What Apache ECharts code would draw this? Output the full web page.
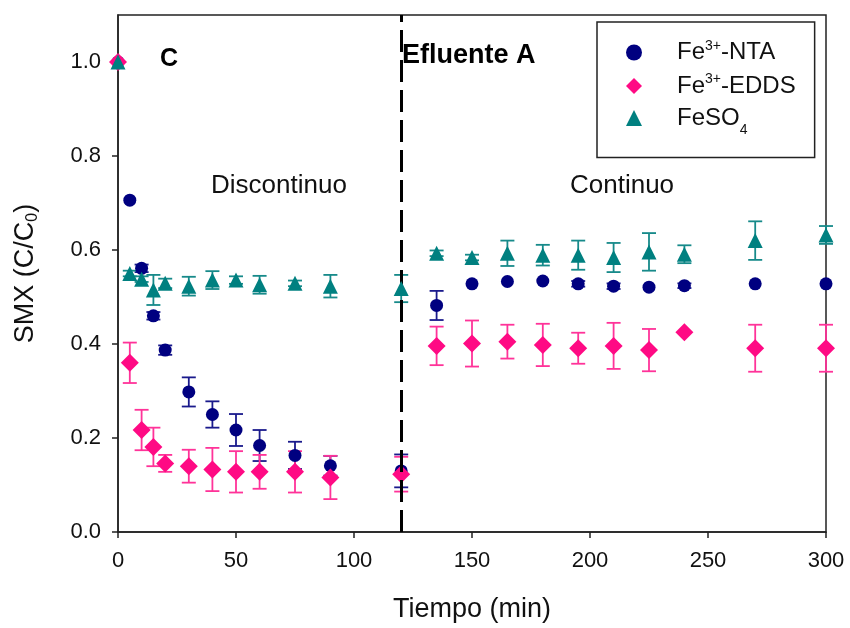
<!DOCTYPE html>
<html>
<head>
<meta charset="utf-8">
<script src="https://cdn.jsdelivr.net/npm/echarts@6/dist/echarts.min.js"></script>
<style>
  html, body { margin: 0; padding: 0; background: #fff; }
  #chart { width: 850px; height: 628px; }
</style>
</head>
<body>
<div id="chart"></div>
<script>
// tiempo (min)
var times = [0, 5, 10, 15, 20, 30, 40, 50, 60, 75, 90, 120, 135, 150, 165, 180, 195, 210, 225, 240, 270, 300]

// SMX C/C0, media y desviación
var ntaMean = [1.0, 0.706, 0.561, 0.46, 0.387, 0.298, 0.25, 0.217, 0.184, 0.163, 0.141, 0.13, 0.482, 0.528, 0.533, 0.534, 0.528, 0.523, 0.521, 0.524, 0.528, 0.528]
var ntaErr = [0, 0, 0.008, 0.008, 0.01, 0.031, 0.028, 0.034, 0.033, 0.029, 0.021, 0.035, 0.031, 0, 0, 0, 0.006, 0.006, 0, 0.005, 0, 0]

var eddsMean = [1.0, 0.36, 0.217, 0.181, 0.146, 0.14, 0.133, 0.128, 0.128, 0.128, 0.116, 0.123, 0.396, 0.401, 0.405, 0.398, 0.391, 0.396, 0.387, 0.425, 0.391, 0.391]
var eddsErr = [0, 0.043, 0.043, 0.041, 0.018, 0.035, 0.046, 0.044, 0.036, 0.044, 0.046, 0.037, 0.041, 0.049, 0.036, 0.045, 0.033, 0.049, 0.045, 0, 0.05, 0.05]

var feMean = [1.0, 0.55, 0.538, 0.515, 0.529, 0.523, 0.536, 0.536, 0.526, 0.529, 0.523, 0.518, 0.593, 0.584, 0.593, 0.589, 0.589, 0.584, 0.596, 0.591, 0.62, 0.632]
var feErr = [0, 0.006, 0.006, 0.032, 0.01, 0.02, 0.019, 0.008, 0.019, 0.006, 0.024, 0.029, 0.006, 0.006, 0.027, 0.022, 0.031, 0.031, 0.04, 0.019, 0.041, 0.019]

var xTicks = [0, 50, 100, 150, 200, 250, 300]
var yTicks = [0, 0.2, 0.4, 0.6, 0.8, 1.0]
var switchTime = 120

var FONT = "'Liberation Sans', Arial, sans-serif"
var NAVY = '#000080'
var PINK = '#ff0a84'
var TEAL = '#008080'

function points(mean) {
  return times.map(function (t, i) { return [t, mean[i]] })
}
function errPoints(mean, err) {
  return times.map(function (t, i) { return [t, mean[i], err[i]] })
}

function errorSeries(name, mean, err, color) {
  return {
    name: name,
    type: 'custom',
    z: 1,
    silent: true,
    data: errPoints(mean, err),
    renderItem: function (params, api) {
      var x = api.value(0), y = api.value(1), e = api.value(2)
      if (!e) return
      var top = api.coord([x, y + e])
      var bot = api.coord([x, y - e])
      var w = 7
      var st = { stroke: color, lineWidth: 1.8 }
      return {
        type: 'group',
        children: [
          { type: 'line', shape: { x1: top[0], y1: top[1], x2: bot[0], y2: bot[1] }, style: st },
          { type: 'line', shape: { x1: top[0] - w, y1: top[1], x2: top[0] + w, y2: top[1] }, style: st },
          { type: 'line', shape: { x1: bot[0] - w, y1: bot[1], x2: bot[0] + w, y2: bot[1] }, style: st }
        ]
      }
    }
  }
}

var legendText = {
  'Fe3+-NTA': '{sp|}{n|Fe}{sup|3+}{n|-NTA}',
  'Fe3+-EDDS': '{sp|}{n|Fe}{sup|3+}{n|-EDDS}',
  'FeSO4': '{sp|}{n|FeSO}{sub|4}'
}

var chart = echarts.init(document.getElementById('chart'))
chart.setOption({
  animation: false,
  textStyle: { fontFamily: FONT },
  grid: {
    left: 118, right: 24, top: 15, bottom: 96,
    outerBoundsMode: 'none',
    show: true, borderColor: '#222', borderWidth: 1.5
  },
  legend: {
    left: 597,
    top: 22,
    orient: 'vertical',
    data: ['Fe3+-NTA', 'Fe3+-EDDS', 'FeSO4'],
    itemWidth: 16,
    itemHeight: 16,
    itemGap: 8,
    padding: [17, 19, 20, 29],
    borderColor: '#222',
    borderWidth: 1.5,
    selectedMode: false,
    formatter: function (name) { return legendText[name] },
    textStyle: {
      rich: {
        sp: { width: 30 },
        n: { fontSize: 24, lineHeight: 27, color: '#111', fontFamily: FONT },
        sup: { fontSize: 14, lineHeight: 14, verticalAlign: 'top', color: '#111', fontFamily: FONT },
        sub: { fontSize: 14, lineHeight: 14, verticalAlign: 'bottom', color: '#111', fontFamily: FONT, padding: [0, 0, -6, 0] }
      }
    }
  },
  xAxis: {
    type: 'value',
    min: 0,
    max: 300,
    interval: 50,
    name: 'Tiempo (min)',
    nameLocation: 'middle',
    nameGap: 64,
    nameTextStyle: { fontSize: 27, color: '#111', fontFamily: FONT },
    axisLine: { lineStyle: { color: '#222', width: 1.5 } },
    axisTick: { inside: false, length: 6, lineStyle: { color: '#222', width: 1.5 }, customValues: xTicks },
    axisLabel: { fontSize: 22, color: '#111', margin: 18, customValues: xTicks },
    splitLine: { show: false }
  },
  yAxis: {
    type: 'value',
    min: 0,
    max: 1.1,
    interval: 0.2,
    name: '{n|SMX (C/C}{sub|0}{n|)}',
    nameLocation: 'middle',
    nameGap: 77,
    nameTextStyle: {
      rich: {
        n: { fontSize: 27, lineHeight: 30, color: '#111', fontFamily: FONT },
        sub: { fontSize: 16, lineHeight: 16, verticalAlign: 'bottom', color: '#111', fontFamily: FONT }
      }
    },
    axisLine: { show: true, lineStyle: { color: '#222', width: 1.5 } },
    axisTick: { show: true, length: 6, lineStyle: { color: '#222', width: 1.5 }, customValues: yTicks },
    axisLabel: {
      fontSize: 22,
      color: '#111',
      margin: 17,
      customValues: yTicks,
      formatter: function (v) { return v > 1.05 ? '' : v.toFixed(1) }
    },
    splitLine: { show: false }
  },
  graphic: [
    { type: 'text', x: 160, y: 59, style: { text: 'C', font: 'bold 25px ' + FONT, fill: '#000', verticalAlign: 'middle' } },
    { type: 'text', x: 402, y: 56, style: { text: 'Efluente A', font: 'bold 27px ' + FONT, fill: '#000', verticalAlign: 'middle' } },
    { type: 'text', x: 211, y: 186, style: { text: 'Discontinuo', font: '26px ' + FONT, fill: '#111', verticalAlign: 'middle' } },
    { type: 'text', x: 570, y: 186, style: { text: 'Continuo', font: '26px ' + FONT, fill: '#111', verticalAlign: 'middle' } }
  ],
  series: [
    errorSeries('NTA err', ntaMean, ntaErr, '#1a1a8c'),
    errorSeries('EDDS err', eddsMean, eddsErr, '#ff3399'),
    errorSeries('FeSO4 err', feMean, feErr, '#178a8a'),
    {
      name: 'Fe3+-NTA',
      type: 'scatter',
      z: 3,
      clip: false,
      symbol: 'circle',
      symbolSize: 13,
      itemStyle: { color: NAVY, opacity: 1 },
      data: points(ntaMean),
      markLine: {
        silent: true,
        symbol: 'none',
        label: { show: false },
        lineStyle: { color: '#000', width: 3, type: [22, 8] },
        data: [{ xAxis: switchTime }]
      }
    },
    {
      name: 'Fe3+-EDDS',
      type: 'scatter',
      z: 4,
      clip: false,
      symbol: 'diamond',
      symbolSize: 18,
      itemStyle: { color: PINK, opacity: 1 },
      data: points(eddsMean)
    },
    {
      name: 'FeSO4',
      type: 'scatter',
      z: 5,
      clip: false,
      symbol: 'triangle',
      symbolSize: 15,
      itemStyle: { color: TEAL, opacity: 1 },
      data: points(feMean)
    }
  ]
})
</script>
</body>
</html>
